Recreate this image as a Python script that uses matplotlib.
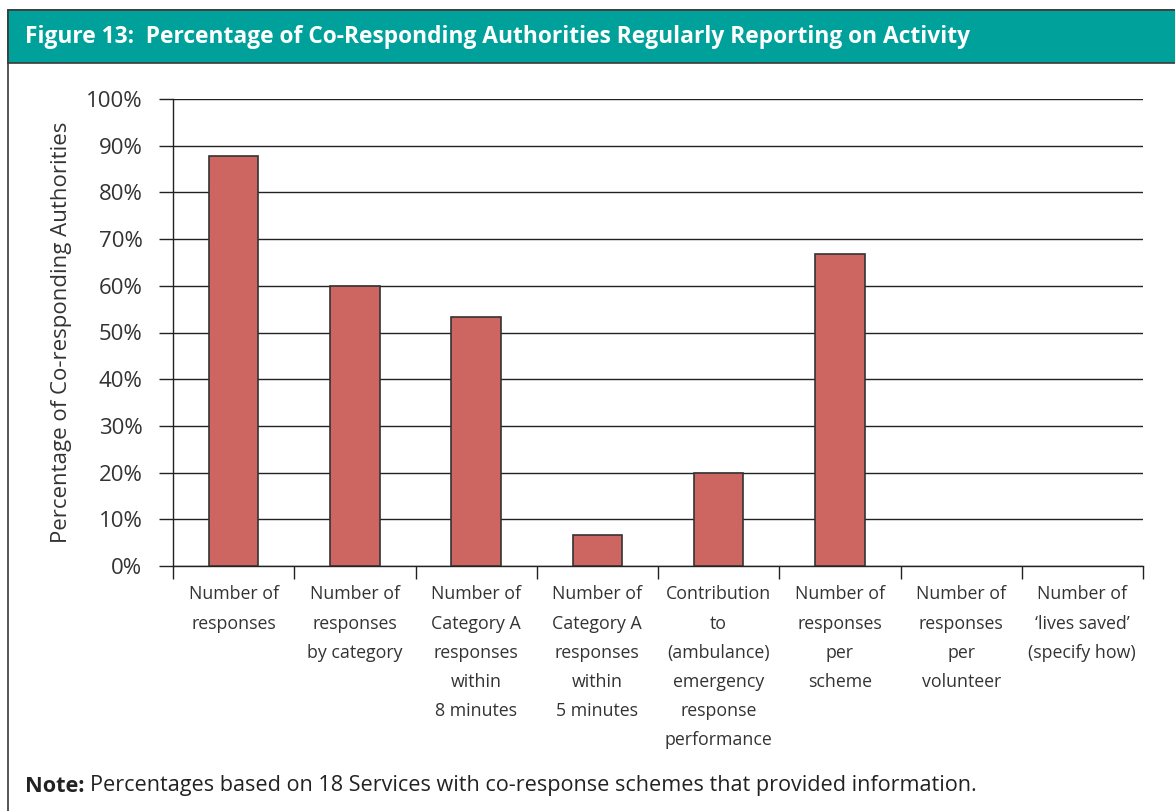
import matplotlib.pyplot as plt
from matplotlib.patches import Rectangle

categories = [
    'Number of\nresponses',
    'Number of\nresponses\nby category',
    'Number of\nCategory A\nresponses\nwithin\n8 minutes',
    'Number of\nCategory A\nresponses\nwithin\n5 minutes',
    'Contribution\nto\n(ambulance)\nemergency\nresponse\nperformance',
    'Number of\nresponses\nper\nscheme',
    'Number of\nresponses\nper\nvolunteer',
    'Number of\n\u2018lives saved\u2019\n(specify how)',
]
values = [87.8, 60.0, 53.4, 6.7, 20.0, 66.9, 0, 0]
yticks = list(range(0, 101, 10))

plt.rcParams['font.family'] = ['Open Sans', 'DejaVu Sans']

W, H = 1175, 811
fig = plt.figure(figsize=(W / 100, H / 100), dpi=100)

# frame and header band
fig.patches.append(Rectangle((8 / W, -0.1), 1.2, (H - 10) / H + 0.1, transform=fig.transFigure,
                             facecolor='none', edgecolor='#3a3a3a', lw=1.2, zorder=0))
fig.patches.append(Rectangle((8 / W, (H - 63) / H), 1.2, 53 / H, transform=fig.transFigure,
                             facecolor='#00A19A', edgecolor='#3a3a3a', lw=1.2, zorder=1))
fig.text(25 / W, (H - 37) / H,
         'Figure 13:  Percentage of Co-Responding Authorities Regularly Reporting on Activity',
         color='white', fontsize=16.4, fontweight='bold', va='center', ha='left')
note = fig.text(25 / W, (H - 786) / H, 'Note:', fontsize=15.6, fontweight='bold',
                va='center', ha='left', color='#222222')

ax = fig.add_axes([173 / W, (H - 566) / H, (1143 - 173) / W, (566 - 99) / H])
ax.annotate('Percentages based on 18 Services with co-response schemes that provided information.',
            xy=(1, 0.5), xycoords=note, xytext=(4, 0), textcoords='offset points',
            fontsize=15.6, color='#222222', va='center', ha='left', annotation_clip=False)

x = list(range(len(categories)))
edges = ['#333333' if v > 0 else 'none' for v in values]
ax.bar(x, values, width=0.41, color='#CD6660', edgecolor=edges, linewidth=1.2, zorder=3)

ax.set_xlim(-0.5, len(categories) - 0.5)
ax.set_ylim(0, 100)
ax.set_yticks(yticks)
ax.set_yticklabels([f'{v}%' for v in yticks], fontsize=16, color='#333333')
ax.yaxis.grid(True, color='#222222', linewidth=1.0, zorder=0)
ax.tick_params(axis='y', length=10, width=1.0, color='#222222', pad=12)

ax.set_xticks([i - 0.5 for i in range(len(categories) + 1)])
ax.set_xticklabels([])
ax.set_xticks(x, minor=True)
ax.set_xticklabels(categories, minor=True, fontsize=12.8, color='#333333', linespacing=1.8, va='top')
ax.tick_params(axis='x', which='major', length=9, width=1.0, color='#222222', direction='out')
ax.tick_params(axis='x', which='minor', length=0, pad=14)

for s in ['top', 'right']:
    ax.spines[s].set_visible(False)
for s in ['left', 'bottom']:
    ax.spines[s].set_color('#222222')
    ax.spines[s].set_linewidth(1.0)

ax.set_ylabel('Percentage of Co-responding Authorities', fontsize=16, color='#333333', labelpad=10)

fig.savefig('out.png', dpi=100)
